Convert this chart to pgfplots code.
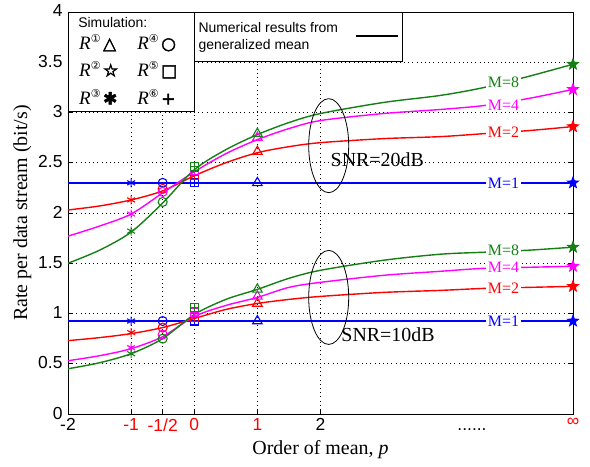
\documentclass[border=0pt]{standalone}
\usepackage{pgfplots}
\pgfplotsset{compat=1.18}
\usepackage{fontspec}
\setmainfont{Liberation Serif}
\setsansfont{Liberation Sans}
\newfontfamily\djv{DejaVu Sans}
\newfontfamily\symb[FakeBold=2.5]{DejaVu Sans}
\newfontfamily\symbb[FakeBold=4]{DejaVu Sans}
\definecolor{mgreen}{RGB}{20,128,20}
\definecolor{mmag}{RGB}{255,0,255}
\definecolor{mred}{RGB}{255,0,0}
\definecolor{mblue}{RGB}{0,0,255}
\pgfdeclareplotmark{pentagram}{%
 \pgfpathmoveto{\pgfpointpolar{90}{\pgfplotmarksize}}%
 \pgfpathlineto{\pgfpointpolar{126}{0.42\pgfplotmarksize}}%
 \pgfpathlineto{\pgfpointpolar{162}{\pgfplotmarksize}}%
 \pgfpathlineto{\pgfpointpolar{198}{0.42\pgfplotmarksize}}%
 \pgfpathlineto{\pgfpointpolar{234}{\pgfplotmarksize}}%
 \pgfpathlineto{\pgfpointpolar{270}{0.42\pgfplotmarksize}}%
 \pgfpathlineto{\pgfpointpolar{306}{\pgfplotmarksize}}%
 \pgfpathlineto{\pgfpointpolar{342}{0.42\pgfplotmarksize}}%
 \pgfpathlineto{\pgfpointpolar{18}{\pgfplotmarksize}}%
 \pgfpathlineto{\pgfpointpolar{54}{0.42\pgfplotmarksize}}%
 \pgfpathclose
 \pgfusepathqfillstroke
}
\newcommand{\sixdots}{\vphantom{1}......}
\newcommand{\Rn}[2]{{\fontsize{19}{19}\selectfont\textit{R}}{\fontsize{11}{11}\selectfont\raisebox{6.5bp}{\djv #1}}\hspace{2.5bp}{\fontsize{17}{17}\selectfont #2}}
\begin{document}
\begin{tikzpicture}
\useasboundingbox (-68bp,-53bp) rectangle (522bp,414bp);
\begin{axis}[
  at={(0,0)}, anchor=south west,
  scale only axis, width=505bp, height=402bp,
  xmin=-2, xmax=6, ymin=0, ymax=4,
  clip=false,
  axis line style={line width=0.8bp},
  tick align=inside, major tick length=5bp,
  tick style={line width=0.7bp, black},
  xtick={-2,-1,-0.5,0,1,2,6},
  xticklabels={-2,\textcolor{red}{-1},\textcolor{red}{-1/2},\textcolor{red}{0},\textcolor{red}{1},2,\textcolor{red}{∞}},
  extra x ticks={4.4},
  extra x tick labels={\sixdots},
  extra x tick style={grid=none, tick style={draw=none}},
  ytick={0,0.5,1,1.5,2,2.5,3,3.5,4},
  yticklabels={0,0.5,1,1.5,2,2.5,3,3.5,4},
  ticklabel style={font=\sffamily\fontsize{17.5}{17.5}\selectfont},
  yticklabel style={xshift=-2bp, yshift=1bp},
  xticklabel style={yshift=-1bp},
  xmajorgrids, ymajorgrids,
  grid style={black, line width=0.7bp, dash pattern=on 0.9bp off 3.3bp},
  xlabel={Order of mean, \textit{p}},
  ylabel={Rate per data stream (bit/s)},
  label style={font=\rmfamily\fontsize{20}{20}\selectfont},
  xlabel style={yshift=-2bp},
  every axis plot/.append style={line width=1.4bp},
  mk/.style={only marks, line width=1.1bp, mark options={solid}},
]
% ---- SNR = 20 dB lines
\addplot[mblue] coordinates {(-2,2.30) (6,2.30)};
\addplot[mred, smooth] coordinates {(-2,2.03) (-1.5,2.07) (-1,2.13) (-0.5,2.22) (0,2.37) (0.5,2.50) (1,2.60) (1.5,2.66) (2,2.70) (3,2.74) (3.9,2.76) (4.6,2.79) (5.3,2.82) (6,2.86)};
\addplot[mmag, smooth] coordinates {(-2,1.77) (-1.5,1.87) (-1,1.99) (-0.5,2.20) (0,2.41) (0.5,2.59) (1,2.73) (1.5,2.84) (2,2.92) (3,2.99) (3.9,3.03) (4.6,3.07) (5.3,3.14) (6,3.23)};
\addplot[mgreen, smooth] coordinates {(-2,1.50) (-1.5,1.63) (-1,1.81) (-0.5,2.10) (0,2.43) (0.5,2.63) (1,2.78) (1.5,2.90) (2,2.99) (3,3.10) (3.9,3.17) (4.6,3.25) (5.3,3.36) (6,3.48)};
% ---- SNR = 10 dB lines
\addplot[mblue] coordinates {(-2,0.925) (6,0.925)};
\addplot[mred, smooth] coordinates {(-2,0.73) (-1.5,0.76) (-1,0.80) (-0.5,0.86) (0,0.95) (0.5,1.04) (1,1.10) (1.5,1.14) (2,1.17) (3,1.21) (3.9,1.23) (4.6,1.25) (5.3,1.26) (6,1.27)};
\addplot[mmag, smooth] coordinates {(-2,0.53) (-1.5,0.58) (-1,0.65) (-0.5,0.77) (0,0.97) (0.5,1.08) (1,1.16) (1.5,1.26) (2,1.31) (3,1.38) (3.9,1.42) (4.6,1.45) (5.3,1.46) (6,1.47)};
\addplot[mgreen, smooth] coordinates {(-2,0.45) (-1.5,0.51) (-1,0.60) (-0.5,0.75) (0,0.99) (0.5,1.14) (1,1.24) (1.5,1.35) (2,1.43) (3,1.53) (3.9,1.59) (4.6,1.61) (5.3,1.63) (6,1.66)};
% ---- simulation markers: blue
\addplot[mk, mblue, mark=asterisk, mark size=4.5bp] coordinates {(-1,2.30) (-1,0.925)};
\addplot[mk, mblue, mark=o, mark size=4.5bp] coordinates {(-0.5,2.30) (-0.5,0.925)};
\addplot[mk, mblue, mark=square, mark size=4bp] coordinates {(0,2.30) (0,0.925)};
\addplot[mk, mblue, mark=+, mark size=4bp] coordinates {(0,2.30) (0,0.925)};
\addplot[mk, mblue, mark=triangle, mark size=5.5bp] coordinates {(1,2.30) (1,0.925)};
\addplot[mk, mblue, mark=pentagram, mark size=5.5bp] coordinates {(6,2.30) (6,0.925)};
% red
\addplot[mk, mred, mark=asterisk, mark size=4.5bp] coordinates {(-1,2.13) (-1,0.81)};
\addplot[mk, mred, mark=o, mark size=4.5bp] coordinates {(-0.5,2.24) (-0.5,0.86)};
\addplot[mk, mred, mark=square, mark size=4bp] coordinates {(0,2.37) (0,0.96)};
\addplot[mk, mred, mark=+, mark size=4bp] coordinates {(0,2.37) (0,0.96)};
\addplot[mk, mred, mark=triangle, mark size=5.5bp] coordinates {(1,2.61) (1,1.10)};
\addplot[mk, mred, mark=pentagram, mark size=5.5bp] coordinates {(6,2.86) (6,1.27)};
% magenta
\addplot[mk, mmag, mark=asterisk, mark size=4.5bp] coordinates {(-1,1.99) (-1,0.66)};
\addplot[mk, mmag, mark=o, mark size=4.5bp] coordinates {(-0.5,2.21) (-0.5,0.79)};
\addplot[mk, mmag, mark=square, mark size=4bp] coordinates {(0,2.42) (0,1.01)};
\addplot[mk, mmag, mark=+, mark size=4bp] coordinates {(0,2.42) (0,1.01)};
\addplot[mk, mmag, mark=triangle, mark size=5.5bp] coordinates {(1,2.75) (1,1.17)};
\addplot[mk, mmag, mark=pentagram, mark size=5.5bp] coordinates {(6,3.23) (6,1.47)};
% green
\addplot[mk, mgreen, mark=asterisk, mark size=4.5bp] coordinates {(-1,1.82) (-1,0.60)};
\addplot[mk, mgreen, mark=o, mark size=4.5bp] coordinates {(-0.5,2.11) (-0.5,0.75)};
\addplot[mk, mgreen, mark=square, mark size=4bp] coordinates {(0,2.46) (0,1.06)};
\addplot[mk, mgreen, mark=+, mark size=4bp] coordinates {(0,2.46) (0,1.06)};
\addplot[mk, mgreen, mark=triangle, mark size=5.5bp] coordinates {(1,2.79) (1,1.24)};
\addplot[mk, mgreen, mark=pentagram, mark size=5.5bp] coordinates {(6,3.48) (6,1.66)};
% ---- M labels
\begin{scope}[every node/.style={fill=white, inner sep=1.5bp, font=\rmfamily\fontsize{16}{16}\selectfont}]
\node[text=mgreen] at (axis cs:4.9,3.30) {M=8};
\node[text=mmag] at (axis cs:4.9,3.07) {M=4};
\node[text=mred] at (axis cs:4.9,2.80) {M=2};
\node[text=mblue] at (axis cs:4.9,2.30) {M=1};
\node[text=mgreen] at (axis cs:4.9,1.63) {M=8};
\node[text=mmag] at (axis cs:4.9,1.46) {M=4};
\node[text=mred] at (axis cs:4.9,1.25) {M=2};
\node[text=mblue] at (axis cs:4.9,0.925) {M=1};
\end{scope}
% ---- ellipses and SNR text
\draw[black, line width=0.8bp] (axis cs:2.13,2.67) ellipse [x radius=20bp, y radius=47bp];
\draw[black, line width=0.8bp] (axis cs:2.13,1.16) ellipse [x radius=20bp, y radius=47bp];
\node[font=\rmfamily\fontsize{20}{20}\selectfont] at (axis cs:2.90,2.53) {SNR=20dB};
\node[font=\rmfamily\fontsize{20}{20}\selectfont] at (axis cs:3.07,0.79) {SNR=10dB};
% ---- legend boxes
\draw[fill=white, line width=0.8bp] (axis cs:-2,4) rectangle (axis cs:0,3.015);
\draw[fill=white, line width=0.8bp] (axis cs:0,4) rectangle (axis cs:3.3,3.51);
\node[anchor=base west, inner sep=0pt, font=\sffamily\fontsize{14}{14}\selectfont] at (axis cs:-1.84,3.85) {Simulation:};
\node[anchor=base west, inner sep=0pt] at (axis cs:-1.825,3.63) {\Rn{①}{\symb △}};
\node[anchor=base west, inner sep=0pt] at (axis cs:-0.905,3.63) {\Rn{④}{\symb ○}};
\node[anchor=base west, inner sep=0pt] at (axis cs:-1.825,3.36) {\Rn{②}{\symbb ☆}};
\node[anchor=base west, inner sep=0pt] at (axis cs:-0.905,3.36) {\Rn{⑤}{\symb □}};
\node[anchor=base west, inner sep=0pt] at (axis cs:-1.825,3.08) {\Rn{③}{\symb ✱}};
\node[anchor=base west, inner sep=0pt] at (axis cs:-0.905,3.08) {\Rn{⑥}{\symb +}};
\node[anchor=base west, inner sep=0pt, font=\sffamily\fontsize{14}{14}\selectfont] at (axis cs:0.065,3.80) {Numerical results from};
\node[anchor=base west, inner sep=0pt, font=\sffamily\fontsize{14}{14}\selectfont] at (axis cs:0.065,3.63) {generalized mean};
\draw[black, line width=1.6bp] (axis cs:2.57,3.76) -- (axis cs:3.22,3.76);
\end{axis}
\end{tikzpicture}
\end{document}
